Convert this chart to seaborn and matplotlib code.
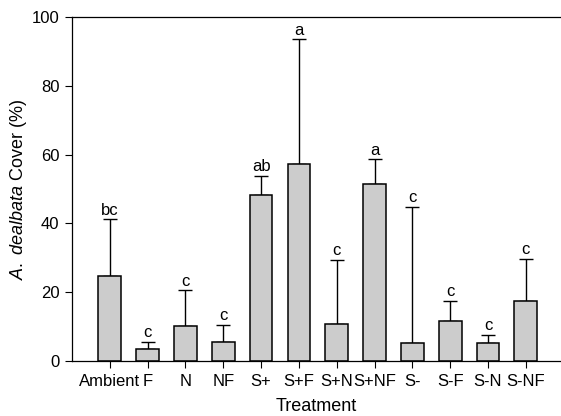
import matplotlib
matplotlib.use('Agg')
import matplotlib.pyplot as plt
import seaborn as sns
import numpy as np

# values
treatments = ['Ambient', 'F', 'N', 'NF', 'S+', 'S+F', 'S+N', 'S+NF', 'S-', 'S-F', 'S-N', 'S-NF']
cover_mean = [24.6, 3.6, 10.2, 5.4, 48.3, 57.2, 10.9, 51.5, 5.1, 11.6, 5.1, 17.4]
cover_err = [16.6, 2.0, 10.4, 5.2, 5.6, 36.3, 18.5, 7.2, 39.8, 5.9, 2.5, 12.3]
letters = ['bc', 'c', 'c', 'c', 'ab', 'a', 'c', 'a', 'c', 'c', 'c', 'c']

sns.set_style('ticks')
plt.rcParams['font.family'] = ['Liberation Sans', 'DejaVu Sans']
plt.rcParams['mathtext.fontset'] = 'custom'
plt.rcParams['mathtext.rm'] = 'Liberation Sans'
plt.rcParams['mathtext.it'] = 'Liberation Sans:italic'
for key in ['text.color', 'axes.labelcolor', 'xtick.color', 'ytick.color', 'axes.edgecolor']:
    plt.rcParams[key] = 'black'

fig = plt.figure(figsize=(5.61, 4.16), dpi=100)
ax = fig.add_axes([72 / 561, 55 / 416, 489 / 561, 344 / 416])

sns.barplot(x=treatments, y=cover_mean, color='#cccccc', edgecolor='black',
            linewidth=1.1, width=0.6, saturation=1, ax=ax, zorder=2)

xpos = np.arange(len(treatments))
ax.errorbar(xpos, cover_mean, yerr=[np.zeros(len(xpos)), cover_err], fmt='none',
            ecolor='black', elinewidth=1, capsize=5, capthick=1, zorder=1)

for x, m, e, lab in zip(xpos, cover_mean, cover_err, letters):
    ax.text(x, m + e + 0.4, lab, ha='center', va='bottom', fontsize=12)

ax.set_xlim(-1, 11.93)
ax.set_ylim(0, 100)
ax.set_yticks([0, 20, 40, 60, 80, 100])
ax.tick_params(axis='both', labelsize=12, length=5, width=0.8, pad=4)
for s in ['left', 'bottom', 'top']:
    ax.spines[s].set_linewidth(0.9)
ax.spines['right'].set_visible(False)
ax.set_xlabel('Treatment', fontsize=13, labelpad=7)
ax.set_ylabel(r'$\mathit{A.\ dealbata}$ Cover (%)', fontsize=13, labelpad=2)

fig.savefig('out.png', dpi=100)
